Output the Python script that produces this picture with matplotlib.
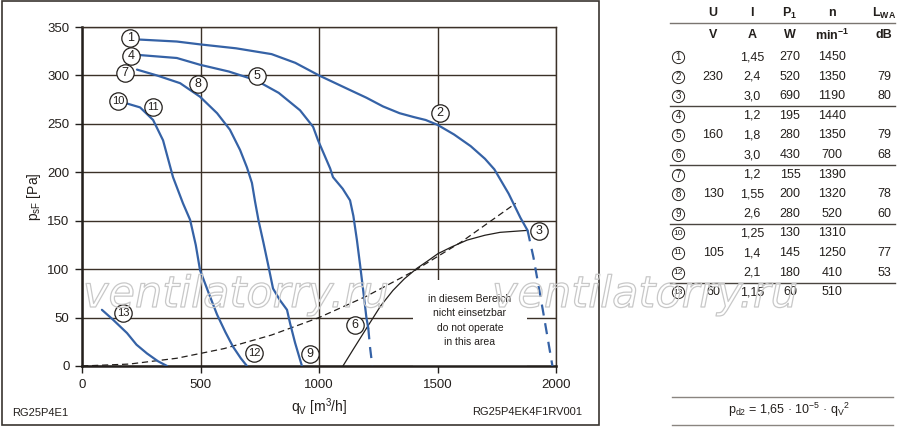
import matplotlib
matplotlib.use('Agg')
import matplotlib.pyplot as plt
import matplotlib.patheffects as pe
from matplotlib.patches import Rectangle

plt.rcParams['font.family'] = ['Liberation Sans', 'DejaVu Sans']
plt.rcParams['mathtext.fontset'] = 'custom'
plt.rcParams['mathtext.rm'] = 'Liberation Sans'
plt.rcParams['mathtext.it'] = 'Liberation Sans:italic'
plt.rcParams['mathtext.bf'] = 'Liberation Sans:bold'

INK = '#231f1c'
GRID = '#3b3128'
BLUE = '#3562a6'

# fan curves (q in m3/h, p in Pa)
q1 = [245, 400, 500, 650, 800, 900, 1000, 1130, 1200, 1270, 1340, 1400, 1450, 1500, 1570, 1640, 1700, 1740, 1800, 1850, 1880]
p1 = [337, 335, 332, 328, 322, 313, 300, 285, 277, 268, 261, 257, 254, 249, 239, 227, 214, 203, 178, 153, 140]
q1_dash = [1880, 1905, 1945, 1985]
p1_dash = [140, 112, 57, 0]

q4 = [245, 400, 498, 620, 734, 830, 920, 975, 996, 1047, 1059, 1100, 1131, 1145, 1160, 1173, 1188, 1200, 1208]
p4 = [321, 318, 311, 304, 295, 282, 264, 247, 233, 204, 195, 183, 171, 155, 130, 105, 75, 50, 39]
q4_dash = [1208, 1215, 1225]
p4_dash = [39, 20, 0]

q7 = [232, 316, 414, 498, 570, 624, 667, 696, 717, 730, 745, 765, 785, 806, 835, 865, 878, 899, 928]
p7 = [306, 300, 292, 278, 261, 244, 223, 205, 189, 170, 150, 128, 105, 80, 68, 58, 44, 24, 0]

q10 = [190, 245, 300, 342, 384, 426, 456, 480, 498, 535, 570, 605, 637, 670, 696]
p10 = [271, 267, 254, 233, 195, 168, 151, 125, 99, 75, 53, 35, 20, 8, 0]

q13 = [84, 130, 190, 230, 274, 320, 359]
p13 = [58, 48, 34, 22, 13, 5, 0]

# system line (dashed) and operating limit (solid black)
q_sys = [0, 200, 400, 600, 800, 1000, 1200, 1400, 1600, 1830]
p_sys = [0, 2, 8, 18, 32, 50, 72, 98, 128, 168]
q_lim = [1101, 1144, 1203, 1260, 1312, 1360, 1414, 1456, 1502, 1560, 1625, 1700, 1764, 1878]
p_lim = [0, 17, 40, 62, 78, 90, 101, 108, 116, 123, 130, 135, 138, 140]

# circled point labels
lab_num = ['1', '2', '3', '4', '5', '6', '7', '8', '9', '10', '11', '12', '13']
lab_q = [203, 1511, 1929, 207, 739, 1152, 181, 490, 962, 152, 300, 726, 173]
lab_p = [339, 261, 139, 320, 299, 42, 302, 291, 12, 274, 267, 13, 55]

# table
tab_U = ['', '230', '', '', '160', '', '', '130', '', '', '105', '', '60']
tab_I = ['1,45', '2,4', '3,0', '1,2', '1,8', '3,0', '1,2', '1,55', '2,6', '1,25', '1,4', '2,1', '1,15']
tab_P = ['270', '520', '690', '195', '280', '430', '155', '200', '280', '130', '145', '180', '60']
tab_n = ['1450', '1350', '1190', '1440', '1350', '700', '1390', '1320', '520', '1310', '1250', '410', '510']
tab_L = ['', '79', '80', '', '79', '68', '', '78', '60', '', '77', '53', '']
head1 = ['U', 'I', r'$\mathbf{P}_\mathbf{1}$', 'n', r'$\mathbf{L}_\mathbf{WA}$']
head2 = ['V', 'A', 'W', r'$\mathbf{min}^\mathbf{-1}$', 'dB']

fig = plt.figure(figsize=(9, 4.29), dpi=100)
ax = fig.add_axes([82 / 900, 1 - 366 / 429, 474 / 900, 339 / 429])

ax.set_xlim(0, 2000)
ax.set_ylim(0, 350)
ax.set_xticks([0, 500, 1000, 1500, 2000])
ax.set_yticks(range(0, 351, 50))
ax.set_axisbelow(True)
ax.grid(True, color=GRID, linewidth=1.0)
for s in ['top', 'right']:
    ax.spines[s].set_color(GRID)
    ax.spines[s].set_linewidth(1.0)
for s in ['left', 'bottom']:
    ax.spines[s].set_color(INK)
    ax.spines[s].set_linewidth(1.8)
ax.tick_params(direction='out', length=5, width=1.0, color=INK, labelsize=9.5,
               labelcolor=INK, pad=4)

# area not allowed
ax.add_patch(Rectangle((1397, 0), 481, 89, facecolor='white', edgecolor='none', zorder=2.2))
ax.text(1637, 47, 'in diesem Bereich\nnicht einsetzbar\ndo not operate\nin this area',
        ha='center', va='center', fontsize=7.5, color=INK, linespacing=1.55, zorder=2.3)

ax.plot(q_sys, p_sys, color=INK, lw=0.9, ls=(0, (5, 3)), zorder=3)
ax.plot(q_lim, p_lim, color=INK, lw=0.9, zorder=3)

for q, p in [(q1, p1), (q4, p4), (q7, p7), (q10, p10), (q13, p13)]:
    ax.plot(q, p, color=BLUE, lw=1.6, zorder=4, solid_capstyle='round', solid_joinstyle='round')
for q, p in [(q1_dash, p1_dash), (q4_dash, p4_dash)]:
    ax.plot(q, p, color=BLUE, lw=1.6, ls=(0, (5, 3.5)), zorder=4)

for t, q, p in zip(lab_num, lab_q, lab_p):
    ax.plot(q, p, 'o', ms=12.5, mfc='white', mec=INK, mew=0.9, zorder=5)
    ax.text(q, p, t, ha='center', va='center', fontsize=9 if len(t) == 1 else 8,
            color=INK, zorder=6)

ax.set_ylabel(r'$\mathrm{p_{sF}}$ [Pa]', fontsize=10, color=INK, labelpad=3)
ax.set_xlabel(r'$\mathrm{q_V}$ [m$^3$/h]', fontsize=10, color=INK, labelpad=4)

# overlay in pixel units for frame, table and notes
ov = fig.add_axes([0, 0, 1, 1], zorder=10)
ov.set_xlim(0, 900)
ov.set_ylim(429, 0)
ov.axis('off')
ov.patch.set_alpha(0)

ov.add_patch(Rectangle((2, 1), 597, 424, facecolor='none', edgecolor='#3a3530', lw=1.2))
ov.text(12, 413, 'RG25P4E1', fontsize=8, color=INK, va='center', ha='left')
ov.text(582, 412, 'RG25P4EK4F1RV001', fontsize=8, color=INK, va='center', ha='right')

cols = [713, 752, 790, 832, 884]
for x, h1, h2 in zip(cols, head1, head2):
    ov.text(x, 13, h1, ha='center', va='center', fontsize=9, fontweight='bold', color=INK)
    ov.text(x, 35, h2, ha='center', va='center', fontsize=9, fontweight='bold', color=INK)
ov.plot([670, 895], [23, 23], color='#7a7570', lw=1.0)

for i in range(13):
    y = 57 + 19.6 * i
    ov.plot(678, y, 'o', ms=8.8, mfc='white', mec=INK, mew=0.7)
    ov.text(678, y, lab_num[i], ha='center', va='center',
            fontsize=7 if i < 9 else 6, color=INK)
    for x, v in zip(cols, [tab_U[i], tab_I[i], tab_P[i], tab_n[i], tab_L[i]]):
        ov.text(x, y, v, ha='center', va='center', fontsize=9, color=INK)
for y in [106, 165, 224, 283]:
    ov.plot([670, 895], [y, y], color='#4a4540', lw=1.0)

ov.plot([672, 893], [397, 397], color='#8a8580', lw=1.0)
ov.plot([672, 893], [425, 425], color='#8a8580', lw=1.0)
ov.text(789, 410, r'$\mathrm{p_{d2}}$ = 1,65 · 10$^{-5}$ · $\mathrm{q_V}^2$',
        ha='center', va='center', fontsize=9, color=INK)

# watermark
for x0 in [83, 492]:
    ov.text(x0, 307, 'ventilatorry.ru', ha='left', va='baseline', fontsize=31,
            family='DejaVu Sans', style='oblique', color='none',
            path_effects=[pe.Stroke(linewidth=0.9, foreground='#c8c8c8')])

fig.savefig('out.png', dpi=100)
